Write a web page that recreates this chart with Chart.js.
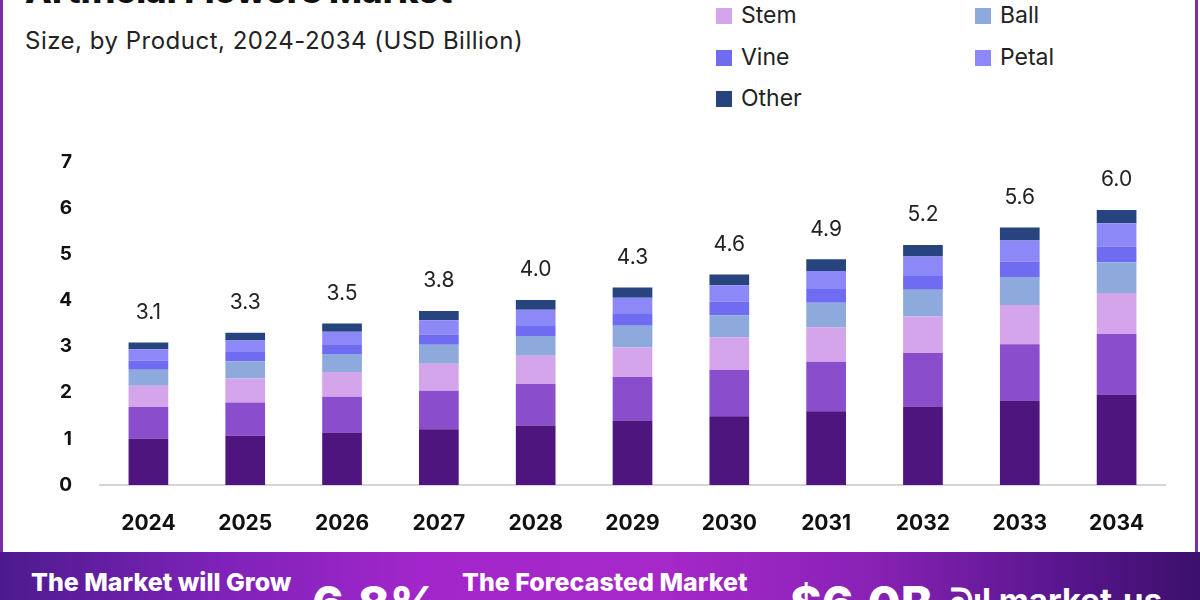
<!DOCTYPE html>
<html>
<head>
<meta charset="utf-8">
<script src="https://cdn.jsdelivr.net/npm/chart.js@4.4.1/dist/chart.umd.min.js"></script>
<style>
  html, body { margin: 0; padding: 0; background: #fff; }
  body { width: 1200px; height: 600px; position: relative; overflow: hidden; font-family: Inter, "Noto Sans", sans-serif; }
  #grafico { position: absolute; left: 0; top: 0; }
  .marco-izq { position: absolute; left: 0; top: 0; width: 3px; height: 552px; background: #7a2fa8; }
  .marco-der { position: absolute; left: 1195px; top: 0; width: 3px; height: 552px; background: #7a2fa8; }
  .titulo { position: absolute; left: 25px; top: -29px; font-size: 35px; font-weight: 800; color: #111; line-height: 38px; white-space: nowrap; }
  .subtitulo { position: absolute; left: 25px; top: 26px; font-size: 24px; letter-spacing: 0.5px; color: #222; line-height: 30px; white-space: nowrap; }
  .leyenda { position: absolute; font-size: 23px; color: #222; line-height: 26px; white-space: nowrap; }
  .leyenda span { display: inline-block; width: 16px; height: 16px; margin-right: 9px; vertical-align: -1px; }
  .banda { position: absolute; left: 0; top: 552px; width: 1200px; height: 48px;
    background: linear-gradient(90deg, #4d1a8e 0%, #7d22b8 18%, #a226cb 35%, #a628c9 55%, #8a22b6 72%, #5a168f 88%, #3c0f6c 100%); }
  .banda div { position: absolute; color: #fff; font-weight: 800; white-space: nowrap; }
</style>
</head>
<body>
<div class="marco-izq"></div>
<div class="marco-der"></div>
<div class="titulo">Artificial Flowers Market</div>
<div class="subtitulo">Size, by Product, 2024-2034 (USD Billion)</div>
<div id="leyenda"></div>
<canvas id="grafico" width="1200" height="600"></canvas>
<div class="banda">
  <div style="left:31px; top:15px; font-size:25px;">The Market will Grow</div>
  <div style="left:312px; top:22px; font-size:48px;">6.8%</div>
  <div style="left:462px; top:15px; font-size:25px;">The Forecasted Market</div>
  <div style="left:790px; top:22px; font-size:48px;">$6.0B</div>
  <div style="left:950px; top:28px; font-size:33px; font-weight:700;">ᘐıl market.us</div>
</div>
<script>
// Datos (USD mil millones)
const anios = ['2024', '2025', '2026', '2027', '2028', '2029', '2030', '2031', '2032', '2033', '2034'];
const serieBase = [1.00, 1.07, 1.14, 1.21, 1.29, 1.40, 1.49, 1.60, 1.70, 1.83, 1.96];
const serieSegunda = [0.69, 0.72, 0.77, 0.83, 0.90, 0.94, 1.00, 1.07, 1.16, 1.22, 1.31];
const stem = [0.46, 0.52, 0.54, 0.59, 0.61, 0.64, 0.71, 0.75, 0.79, 0.85, 0.89];
const ball = [0.35, 0.37, 0.39, 0.41, 0.43, 0.47, 0.48, 0.53, 0.58, 0.61, 0.67];
const vine = [0.20, 0.20, 0.21, 0.22, 0.23, 0.27, 0.29, 0.30, 0.30, 0.33, 0.34];
const petal = [0.24, 0.25, 0.27, 0.31, 0.34, 0.34, 0.36, 0.39, 0.42, 0.46, 0.50];
const other = [0.15, 0.17, 0.18, 0.20, 0.21, 0.22, 0.23, 0.25, 0.25, 0.28, 0.29];
const totales = [3.1, 3.3, 3.5, 3.8, 4.0, 4.3, 4.6, 4.9, 5.2, 5.6, 6.0];
const ticksY = [0, 1, 2, 3, 4, 5, 6, 7];

const series = [
  { label: 'Bush', data: serieBase, color: '#4e157f', leyenda: false },
  { label: 'Spray', data: serieSegunda, color: '#8a4dcc', leyenda: false },
  { label: 'Stem', data: stem, color: '#d4a5eb', leyenda: true, x: 716, y: 2 },
  { label: 'Ball', data: ball, color: '#8ea9dc', leyenda: true, x: 975, y: 2 },
  { label: 'Vine', data: vine, color: '#6f6cf2', leyenda: true, x: 716, y: 44 },
  { label: 'Petal', data: petal, color: '#8c88f7', leyenda: true, x: 975, y: 44 },
  { label: 'Other', data: other, color: '#28447f', leyenda: true, x: 716, y: 85 }
];

// Leyenda en HTML (dos columnas)
const contLeyenda = document.getElementById('leyenda');
series.filter(s => s.leyenda).forEach(s => {
  const d = document.createElement('div');
  d.className = 'leyenda';
  d.style.left = s.x + 'px';
  d.style.top = s.y + 'px';
  d.innerHTML = `<span style="background:${s.color}"></span>${s.label}`;
  contLeyenda.appendChild(d);
});

// Etiquetas de total encima de cada barra
const etiquetasTotales = {
  id: 'etiquetasTotales',
  afterDatasetsDraw(chart) {
    const ctx = chart.ctx;
    const meta = chart.getDatasetMeta(chart.data.datasets.length - 1);
    ctx.save();
    ctx.font = '21px Inter, "Noto Sans", sans-serif';
    ctx.fillStyle = '#222';
    ctx.textAlign = 'center';
    ctx.textBaseline = 'middle';
    meta.data.forEach((barra, i) => {
      ctx.fillText(totales[i].toFixed(1), barra.x, barra.y - 30);
    });
    ctx.restore();
  }
};

new Chart(document.getElementById('grafico'), {
  type: 'bar',
  data: {
    labels: anios,
    datasets: series.map(s => ({
      label: s.label,
      data: s.data,
      backgroundColor: s.color,
      borderWidth: 0,
      categoryPercentage: 1,
      barPercentage: 0.41
    }))
  },
  options: {
    responsive: false,
    animation: false,
    layout: { padding: { top: 162, right: 35, left: 0, bottom: 0 } },
    plugins: {
      legend: { display: false },
      tooltip: { enabled: false }
    },
    scales: {
      x: {
        stacked: true,
        grid: { display: false, drawTicks: false },
        border: { display: true, color: '#d6d3df', width: 2 },
        ticks: { color: '#111', padding: 26, font: { family: 'Inter', size: 21, weight: 'bold' } },
        afterFit: (s) => { s.height = 115; }
      },
      y: {
        stacked: true,
        min: 0,
        max: 7,
        afterBuildTicks: (s) => { s.ticks = ticksY.map(v => ({ value: v })); },
        grid: { display: false, drawTicks: false },
        border: { display: false },
        ticks: { color: '#111', padding: 28, font: { family: 'Inter', size: 19, weight: 'bold' } },
        afterFit: (s) => { s.width = 100; }
      }
    }
  },
  plugins: [etiquetasTotales]
});
</script>
</body>
</html>
